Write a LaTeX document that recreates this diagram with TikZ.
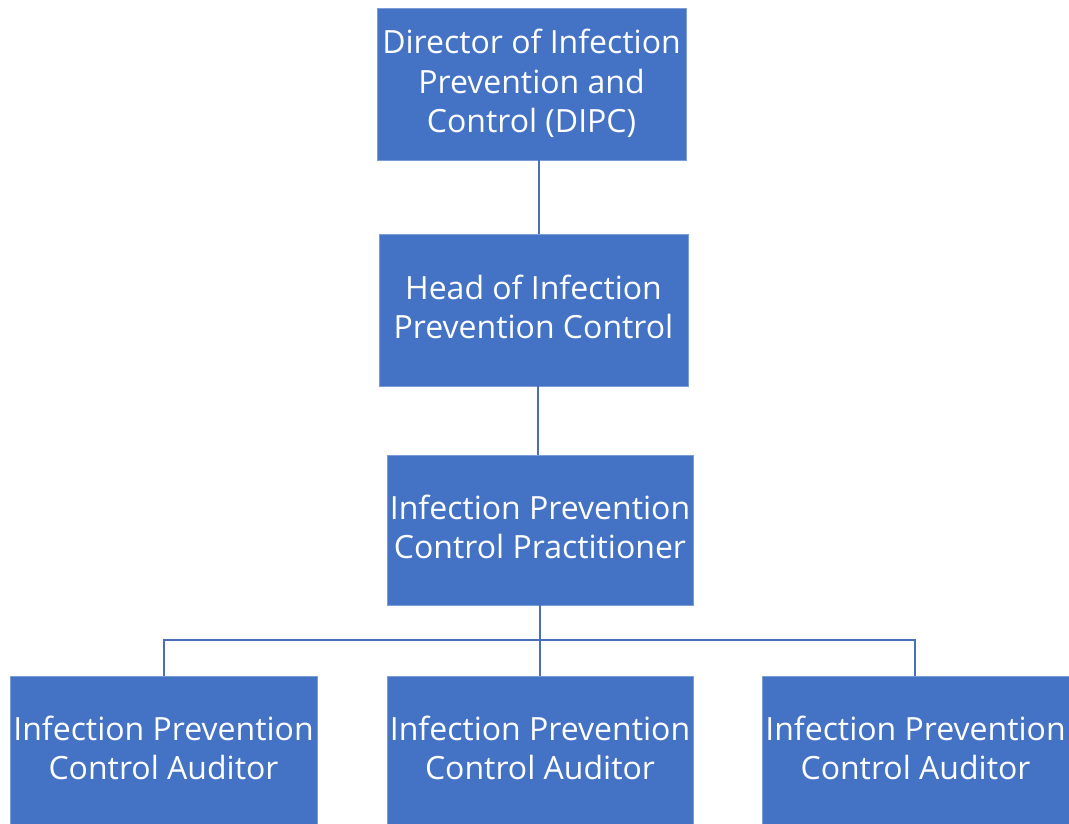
\documentclass[tikz,border=0pt]{standalone}
\usepackage{fontspec}
\setmainfont{Open Sans}
\definecolor{boxblue}{HTML}{4472C4}
\definecolor{lineblue}{HTML}{4A6FB8}
\begin{document}
\begin{tikzpicture}[x=1pt,y=-1pt,
  orgbox/.style={fill=boxblue,draw=boxblue!70!white,line width=0.8pt,text=white,
    font=\fontsize{32}{39.5}\selectfont,align=center,inner sep=0pt,
    minimum width=#1,text depth=7pt},
  orgbox/.default=307pt,
  link/.style={draw=lineblue,line width=2pt}]
\useasboundingbox (0,0) rectangle (1069,823);
\begin{scope}
\clip (0,0) rectangle (1069,823);
\node[orgbox=309pt,minimum height=152pt,text depth=6pt] (dipc) at (531.5,84) {Director of Infection\\Prevention and\\Control (DIPC)};
\node[orgbox=309pt,minimum height=152pt] (head) at (533.5,310) {Head of Infection\\Prevention Control};
\node[orgbox=306pt,minimum height=150pt] (prac) at (540,530) {Infection Prevention\\Control Practitioner};
\node[orgbox=307pt,minimum height=150pt] (aud1) at (163.5,751) {Infection Prevention\\Control Auditor};
\node[orgbox=306pt,minimum height=150pt] (aud2) at (540,751) {Infection Prevention\\Control Auditor};
\node[orgbox=307pt,minimum height=150pt] (aud3) at (915.5,751) {Infection Prevention\\Control Auditor};
\end{scope}
\coordinate (bus) at (540,640);
\draw[link] (dipc.south -| 539,0) -- (head.north -| 539,0);
\draw[link] (head.south -| 538,0) -- (prac.north -| 538,0);
\draw[link,line width=2.6pt] (prac.south) -- (bus);
\draw[link] (aud1.north -| 164,0) -- (bus -| 164,0) -- (bus -| 915,0) -- (aud3.north -| 915,0);
\draw[link] (bus) -- (aud2.north);
\end{tikzpicture}
\end{document}
